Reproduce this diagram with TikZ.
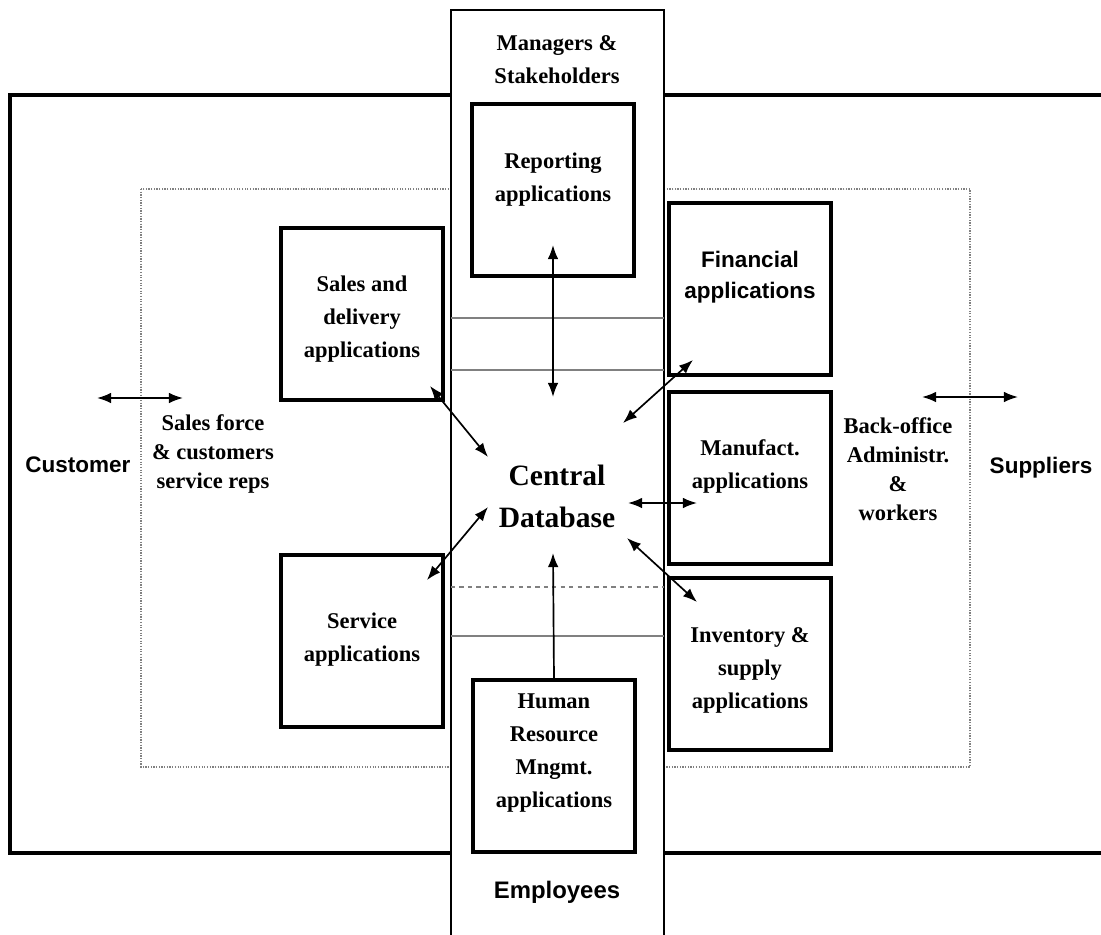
\documentclass[tikz,border=0pt]{standalone}
\usepackage{fontspec}
\setmainfont{Liberation Serif}
\newfontfamily\labelsans{Liberation Sans}
\usetikzlibrary{arrows.meta}

\begin{document}
\begin{tikzpicture}[x=0.025cm, y=-0.025cm,
    appbox/.style={draw, line width=2.2pt, minimum width=4.05cm, minimum height=4.3cm, inner sep=0pt},
    apptext/.style={align=center, font=\bfseries\fontsize{16}{23.5}\selectfont},
    sidetext/.style={align=center, font=\labelsans\bfseries\fontsize{16}{22}\selectfont},
    dbtip/.tip={Latex[length=10pt,width=7.5pt]},
    link/.style={line width=1.2pt, dbtip-dbtip}]
    \useasboundingbox (0,0) rectangle (1101,935);

    \coordinate (OA) at (1101,95);
    \coordinate (OB) at (10,95);
    \coordinate (OC) at (10,853);
    \coordinate (OD) at (1101,853);
    \draw[line width=2.4pt] (OA) -- (OB) -- (OC) -- (OD);

    \draw[densely dotted, gray, line width=0.9pt] (141,189) rectangle (970,767);

    \draw[fill=white, line width=1pt] (451,940) -- (451,10) -- (664,10) -- (664,940);

    \draw[gray, line width=0.8pt] (451,318) -- (664,318);
    \draw[gray, line width=0.8pt] (451,370) -- (664,370);
    \draw[gray, dashed, line width=0.8pt] (451,587) -- (664,587);
    \draw[gray, line width=0.8pt] (451,636) -- (664,636);

    \node[apptext] (mgr) at (557,60) {Managers \&\\Stakeholders};
    \node[appbox] (rep) at (553,190) {};
    \node[apptext] (rep-t) at (553,180) {Reporting\\applications};

    \node[appbox] (sales) at (362,314) {};
    \node[apptext] (sales-t) at (362,319) {Sales and\\delivery\\applications};

    \node[appbox] (serv) at (362,641) {};
    \node[apptext] (serv-t) at (362,640) {Service\\applications};

    \node[appbox] (fin) at (750,289) {};
    \node[sidetext] (fin-t) at (750,277) {Financial\\applications};

    \node[appbox] (man) at (750,478) {};
    \node[apptext] (man-t) at (750,466) {Manufact.\\applications};

    \node[appbox] (inv) at (750,664) {};
    \node[apptext] (inv-t) at (750,670) {Inventory \&\\supply\\applications};

    \node[appbox] (hr) at (554,766) {};
    \node[apptext] (hr-t) at (554,753) {Human\\Resource\\Mngmt.\\applications};

    \node[align=center, font=\bfseries\fontsize{21}{30}\selectfont] (db) at (557,496) {Central\\Database};

    \node[sidetext] (cust) at (78,465) {Customer};
    \node[sidetext] (supp) at (1041,468) {Suppliers};
    \node[sidetext, font=\labelsans\bfseries\fontsize{17}{22}\selectfont] (emp) at (557,892) {Employees};

    \node[align=center, font=\bfseries\fontsize{16}{20.6}\selectfont] (reps) at (213,454) {Sales force\\\& customers\\service reps};
    \node[align=center, font=\bfseries\fontsize{16}{20.6}\selectfont] (back) at (898,469) {Back-office\\Administr.\\\&\\workers};

    \coordinate (cust-e) at (97,398);
    \coordinate (reps-w) at (183,398);
    \coordinate (back-e) at (922,397);
    \coordinate (supp-w) at (1018,397);
    \coordinate (rep-in) at (553,245);
    \coordinate (db-n) at (553,397);
    \coordinate (sales-in) at (430,386);
    \coordinate (db-nw) at (488,457);
    \coordinate (fin-in) at (693,360);
    \coordinate (db-ne) at (623,423);
    \coordinate (db-e) at (628,503);
    \coordinate (man-in) at (697,503);
    \coordinate (db-se) at (627,538);
    \coordinate (inv-in) at (697,602);
    \coordinate (serv-in) at (427,580);
    \coordinate (db-sw) at (488,507);
    \coordinate (db-s) at (553,553);

    \draw[link] (cust-e) -- (reps-w);
    \draw[link] (back-e) -- (supp-w);
    \draw[link] (rep-in) -- (db-n);
    \draw[link] (sales-in) -- (db-nw);
    \draw[link] (fin-in) -- (db-ne);
    \draw[link] (db-e) -- (man-in);
    \draw[link] (db-se) -- (inv-in);
    \draw[link] (serv-in) -- (db-sw);
    \draw[line width=1.2pt, -dbtip] (hr.north) -- (db-s);
\end{tikzpicture}
\end{document}
